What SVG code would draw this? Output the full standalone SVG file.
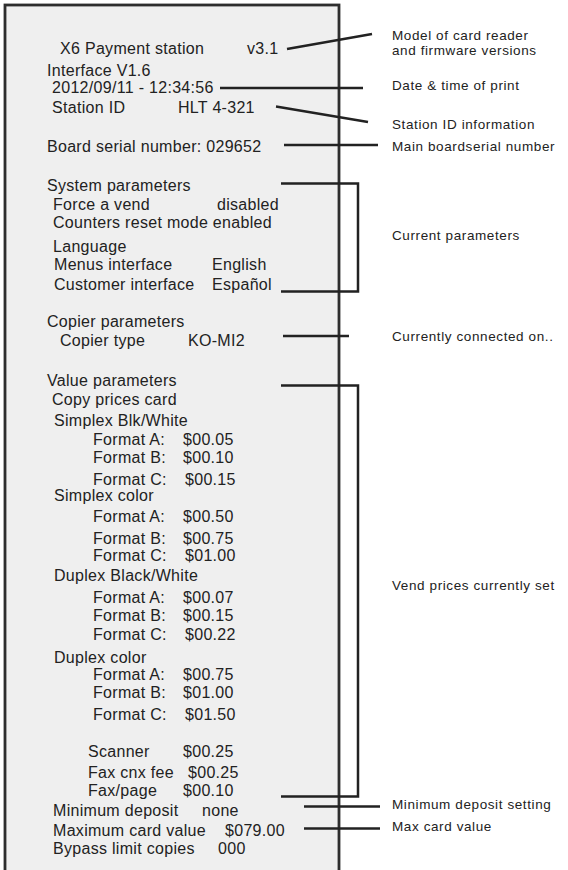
<svg xmlns="http://www.w3.org/2000/svg" width="568" height="870" viewBox="0 0 568 870">
<style>
.t{font-family:"Liberation Sans",Arial,sans-serif;font-size:16px;fill:#222;letter-spacing:0.3px}
.l{font-family:"Liberation Sans",Arial,sans-serif;font-size:13.5px;fill:#222;letter-spacing:0.6px}
.c{stroke:#222;stroke-width:2.5;fill:none}
</style>
<rect width="568" height="870" fill="#ffffff"/>
<g id="receipt">
<rect x="5" y="5" width="334" height="880" fill="#efefef" stroke="#2e2e2e" stroke-width="2.8"/>
<text class="t" x="60" y="54">X6 Payment station</text><text class="t" x="247" y="54">v3.1</text>
<text class="t" x="47" y="76">Interface V1.6</text>
<text class="t" x="52" y="93">2012/09/11 - 12:34:56</text>
<text class="t" x="52" y="113">Station ID</text><text class="t" x="178" y="113">HLT 4-321</text>
<text class="t" x="47" y="152">Board serial number: 029652</text>
<text class="t" x="47" y="191">System parameters</text>
<text class="t" x="53" y="210">Force a vend</text><text class="t" x="217" y="210">disabled</text>
<text class="t" x="53" y="228">Counters reset mode enabled</text>
<text class="t" x="53" y="252">Language</text>
<text class="t" x="54" y="270">Menus interface</text><text class="t" x="212" y="270">English</text>
<text class="t" x="54" y="290">Customer interface</text><text class="t" x="212" y="290">Español</text>
<text class="t" x="47" y="327">Copier parameters</text>
<text class="t" x="60" y="346">Copier type</text><text class="t" x="188" y="346">KO-MI2</text>
<text class="t" x="47" y="386">Value parameters</text>
<text class="t" x="52" y="405">Copy prices card</text>
<text class="t" x="54" y="426">Simplex Blk/White</text>
<text class="t" x="93" y="445">Format A:</text><text class="t" x="183" y="445">$00.05</text>
<text class="t" x="93" y="463">Format B:</text><text class="t" x="183" y="463">$00.10</text>
<text class="t" x="93" y="485">Format C:</text><text class="t" x="185" y="485">$00.15</text>
<text class="t" x="54" y="501">Simplex color</text>
<text class="t" x="93" y="522">Format A:</text><text class="t" x="183" y="522">$00.50</text>
<text class="t" x="93" y="544">Format B:</text><text class="t" x="183" y="544">$00.75</text>
<text class="t" x="93" y="561">Format C:</text><text class="t" x="185" y="561">$01.00</text>
<text class="t" x="54" y="581">Duplex Black/White</text>
<text class="t" x="93" y="603">Format A:</text><text class="t" x="183" y="603">$00.07</text>
<text class="t" x="93" y="621">Format B:</text><text class="t" x="183" y="621">$00.15</text>
<text class="t" x="93" y="640">Format C:</text><text class="t" x="185" y="640">$00.22</text>
<text class="t" x="54" y="663">Duplex color</text>
<text class="t" x="93" y="680">Format A:</text><text class="t" x="183" y="680">$00.75</text>
<text class="t" x="93" y="698">Format B:</text><text class="t" x="183" y="698">$01.00</text>
<text class="t" x="93" y="720">Format C:</text><text class="t" x="185" y="720">$01.50</text>
<text class="t" x="88" y="757">Scanner</text><text class="t" x="183" y="757">$00.25</text>
<text class="t" x="88" y="778">Fax cnx fee</text><text class="t" x="188" y="778">$00.25</text>
<text class="t" x="88" y="796">Fax/page</text><text class="t" x="183" y="796">$00.10</text>
<text class="t" x="53" y="816">Minimum deposit</text><text class="t" x="202" y="816">none</text>
<text class="t" x="53" y="836">Maximum card value</text><text class="t" x="225" y="836">$079.00</text>
<text class="t" x="53" y="854">Bypass limit copies</text><text class="t" x="218" y="854">000</text>
</g>
<g id="connectors">
<line class="c" x1="287" y1="49" x2="372" y2="34"/>
<line class="c" x1="220" y1="88" x2="363" y2="88"/>
<line class="c" x1="276" y1="106.5" x2="368" y2="122"/>
<line class="c" x1="284" y1="145" x2="378" y2="145"/>
<polyline class="c" points="281,183.5 358,183.5 358,291.5 281,291.5"/>
<line class="c" x1="283" y1="336" x2="349" y2="336"/>
<polyline class="c" points="281,385.5 358,385.5 358,796.5 281,796.5"/>
<line class="c" x1="304" y1="806.5" x2="380" y2="806.5"/>
<line class="c" x1="304" y1="828.5" x2="380" y2="828.5"/>
</g>
<g id="labels">
<text class="l" x="392" y="40">Model of card reader</text>
<text class="l" x="392" y="55">and firmware versions</text>
<text class="l" x="392" y="90">Date &amp; time of print</text>
<text class="l" x="392" y="129">Station ID information</text>
<text class="l" x="392" y="151">Main boardserial number</text>
<text class="l" x="392" y="240">Current parameters</text>
<text class="l" x="392" y="341">Currently connected on..</text>
<text class="l" x="392" y="590">Vend prices currently set</text>
<text class="l" x="392" y="809">Minimum deposit setting</text>
<text class="l" x="392" y="831">Max card value</text>
</g>
</svg>
